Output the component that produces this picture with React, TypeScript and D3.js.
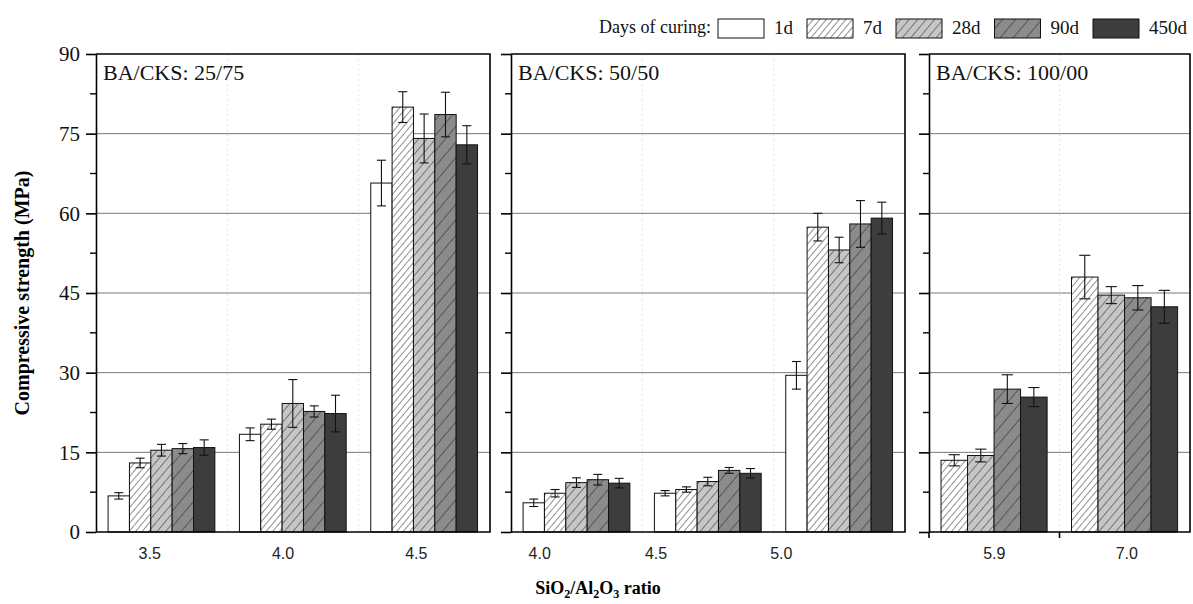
import { useEffect, useRef } from 'react'
import * as d3 from 'd3'

// curing ages (legend order)
const days = ['1d', '7d', '28d', '90d', '450d']

// panel titles and SiO2/Al2O3 ratios
const panelNames = ['BA/CKS: 25/75', 'BA/CKS: 50/50', 'BA/CKS: 100/00']
const ratios1 = ['3.5', '4.0', '4.5']
const ratios2 = ['4.0', '4.5', '5.0']
const ratios3 = ['5.9', '7.0']

// compressive strength (MPa), one row per ratio, one column per age (null = no sample)
const mean1 = [
  [6.8, 13.0, 15.4, 15.7, 15.9],
  [18.4, 20.3, 24.2, 22.7, 22.3],
  [65.7, 80.0, 74.1, 78.6, 72.9],
]
const err1 = [
  [0.6, 0.9, 1.1, 0.95, 1.45],
  [1.2, 0.95, 4.5, 1.05, 3.45],
  [4.3, 2.9, 4.6, 4.2, 3.6],
]
const mean2 = [
  [5.5, 7.3, 9.3, 9.85, 9.2],
  [7.3, 8.0, 9.5, 11.6, 11.05],
  [29.5, 57.4, 53.1, 58.0, 59.1],
]
const err2 = [
  [0.7, 0.7, 0.9, 1.0, 0.9],
  [0.5, 0.5, 0.8, 0.55, 0.9],
  [2.6, 2.6, 2.4, 4.4, 3.0],
]
const mean3 = [
  [null, 13.5, 14.4, 26.9, 25.4],
  [null, 48.0, 44.6, 44.1, 42.4],
]
const err3 = [
  [null, 1.05, 1.2, 2.7, 1.8],
  [null, 4.1, 1.6, 2.3, 3.1],
]

const yTicks = [0, 15, 30, 45, 60, 75, 90]
const yMinorTicks = [7.5, 22.5, 37.5, 52.5, 67.5, 82.5]

const serif = '"Liberation Serif", "Times New Roman", serif'
const sans = '"Liberation Sans", Arial, sans-serif'

export default function App() {
  const ref = useRef<SVGSVGElement>(null)

  useEffect(() => {
    const W = 1193, H = 604
    const svg = d3.select(ref.current)
    svg.selectAll('*').remove()
    svg.attr('width', W).attr('height', H)

    const top = 54, bottom = 532
    const y = d3.scaleLinear().domain([0, 90]).range([bottom, top])

    // hatch patterns
    const defs = svg.append('defs')
    const hatch = (id: string, bg: string, gap: number) => {
      const p = defs.append('pattern')
        .attr('id', id)
        .attr('patternUnits', 'userSpaceOnUse')
        .attr('width', gap).attr('height', gap)
        .attr('patternTransform', 'rotate(40)')
      p.append('rect').attr('width', gap).attr('height', gap).attr('fill', bg)
      p.append('line').attr('x1', 0).attr('y1', 0).attr('x2', 0).attr('y2', gap)
        .attr('stroke', '#222').attr('stroke-width', 1)
    }
    hatch('h7', '#fff', 5)
    hatch('h28', '#c6c6c6', 6.5)
    hatch('h90', '#8b8b8b', 10)
    const fills: Record<string, string> = {
      '1d': '#fff', '7d': 'url(#h7)', '28d': 'url(#h28)', '90d': 'url(#h90)', '450d': '#3d3d3d',
    }

    const panels = [
      { name: panelNames[0], cats: ratios1, means: mean1, errs: err1, x0: 96, x1: 490, labels: true, xTicks: false, labelDx: [-12, -10, -8] },
      { name: panelNames[1], cats: ratios2, means: mean2, errs: err2, x0: 511, x1: 905, labels: false, xTicks: false, labelDx: [-37, -52, -58] },
      { name: panelNames[2], cats: ratios3, means: mean3, errs: err3, x0: 929, x1: 1190, labels: false, xTicks: true, labelDx: [0, 2] },
    ]

    panels.forEach((pn) => {
      const g = svg.append('g')
      const x = d3.scaleBand().domain(pn.cats).range([pn.x0, pn.x1])
      const bw = x.bandwidth()
      const used = days.filter((_, j) => pn.means.some((r) => r[j] != null))
      const xi = d3.scaleBand().domain(used).range([bw * 0.092, bw * 0.905])

      // faint vertical separators
      g.selectAll('line.vsep')
        .data(pn.cats.slice(1))
        .join('line')
        .attr('x1', (d) => x(d)!).attr('x2', (d) => x(d)!)
        .attr('y1', top).attr('y2', bottom)
        .attr('stroke', '#e4e4e4').attr('stroke-dasharray', '2,3')

      // horizontal gridlines
      g.selectAll('line.grid')
        .data(yTicks.slice(1, -1))
        .join('line')
        .attr('x1', pn.x0).attr('x2', pn.x1)
        .attr('y1', (d) => y(d)).attr('y2', (d) => y(d))
        .attr('stroke', '#777').attr('stroke-width', 1)

      // bars
      pn.cats.forEach((c, i) => {
        used.forEach((dname) => {
          const j = days.indexOf(dname)
          const v = pn.means[i][j]
          const e = pn.errs[i][j]
          if (v == null) return
          const bx = x(c)! + xi(dname)!
          const w = xi.bandwidth()
          g.append('rect')
            .attr('x', bx).attr('y', y(v))
            .attr('width', w).attr('height', y(0) - y(v))
            .attr('fill', fills[dname])
            .attr('stroke', '#111').attr('stroke-width', 1)
          if (e != null) {
            const cx = bx + w / 2
            const cap = w * 0.21
            const eb = g.append('g').attr('stroke', '#111').attr('stroke-width', 1.1)
            eb.append('line').attr('x1', cx).attr('x2', cx).attr('y1', y(v + e)).attr('y2', y(v - e))
            eb.append('line').attr('x1', cx - cap).attr('x2', cx + cap).attr('y1', y(v + e)).attr('y2', y(v + e))
            eb.append('line').attr('x1', cx - cap).attr('x2', cx + cap).attr('y1', y(v - e)).attr('y2', y(v - e))
          }
        })
      })

      // frame: top, right, bottom
      const frame = g.append('g').attr('stroke', '#000').attr('stroke-width', 1.6).attr('fill', 'none')
      frame.append('path').attr('d', `M${pn.x0},${top}H${pn.x1}V${bottom}H${pn.x0}`)

      // left axis with major + minor ticks
      const ax = g.append('g').attr('transform', `translate(${pn.x0},0)`)
        .call(d3.axisLeft(y).tickValues(yTicks).tickSize(10).tickSizeOuter(0).tickPadding(6)
          .tickFormat((d) => (pn.labels ? String(d) : '')))
      ax.select('.domain').attr('stroke-width', 1.6)
      ax.selectAll('.tick line').attr('stroke-width', 1.6)
      ax.selectAll('text').attr('font-family', serif).attr('font-size', 21).attr('fill', '#111')
      g.selectAll('line.minor')
        .data(yMinorTicks)
        .join('line')
        .attr('x1', pn.x0 - 6).attr('x2', pn.x0)
        .attr('y1', (d) => y(d)).attr('y2', (d) => y(d))
        .attr('stroke', '#000').attr('stroke-width', 1.4)

      // x ticks pointing down (last panel only)
      if (pn.xTicks) {
        g.selectAll('line.xt')
          .data(pn.cats)
          .join('line')
          .attr('x1', (d) => x(d)!).attr('x2', (d) => x(d)!)
          .attr('y1', bottom).attr('y2', bottom + 6)
          .attr('stroke', '#000').attr('stroke-width', 1.6)
      }

      // category labels
      g.selectAll('text.cat')
        .data(pn.cats)
        .join('text')
        .attr('x', (d, i) => x(d)! + bw / 2 + pn.labelDx[i])
        .attr('y', 559)
        .attr('text-anchor', 'middle')
        .attr('font-family', sans).attr('font-size', 16).attr('fill', '#222')
        .text((d) => d)

      // panel title
      g.append('text')
        .attr('x', pn.x0 + 7).attr('y', 80)
        .attr('font-family', serif).attr('font-size', 22).attr('fill', '#111')
        .text(pn.name)
    })

    // y-axis title
    svg.append('text')
      .attr('transform', `translate(29,${(top + bottom) / 2}) rotate(-90)`)
      .attr('text-anchor', 'middle')
      .attr('font-family', serif).attr('font-size', 20).attr('font-weight', 'bold')
      .text('Compressive strength (MPa)')

    // x-axis title with subscripts
    const xt = svg.append('text')
      .attr('x', 598).attr('y', 594)
      .attr('text-anchor', 'middle')
      .attr('font-family', serif).attr('font-size', 18).attr('font-weight', 'bold')
    const parts: [string, boolean][] = [['SiO', false], ['2', true], ['/Al', false], ['2', true], ['O', false], ['3', true], [' ratio', false]]
    parts.forEach(([t, sub]) => {
      xt.append('tspan')
        .attr('font-size', sub ? 12 : 18)
        .attr('baseline-shift', sub ? '-30%' : null)
        .text(t)
    })

    // legend
    const lg = svg.append('g')
    lg.append('text')
      .attr('x', 711).attr('y', 33)
      .attr('text-anchor', 'end')
      .attr('font-family', serif).attr('font-size', 18).attr('fill', '#111')
      .text('Days of curing:')
    let cx = 718
    days.forEach((dname) => {
      lg.append('rect')
        .attr('x', cx).attr('y', 19).attr('width', 46).attr('height', 19)
        .attr('fill', fills[dname]).attr('stroke', '#111').attr('stroke-width', 1)
      const t = lg.append('text')
        .attr('x', cx + 56).attr('y', 34)
        .attr('font-family', serif).attr('font-size', 19).attr('fill', '#111')
        .text(dname)
      const tw = (t.node() as SVGTextElement).getComputedTextLength()
      cx += 56 + tw + 14
    })
  }, [])

  return (
    <svg ref={ref} style={{ position: 'absolute', left: 0, top: 0, background: '#fff' }} />
  )
}
